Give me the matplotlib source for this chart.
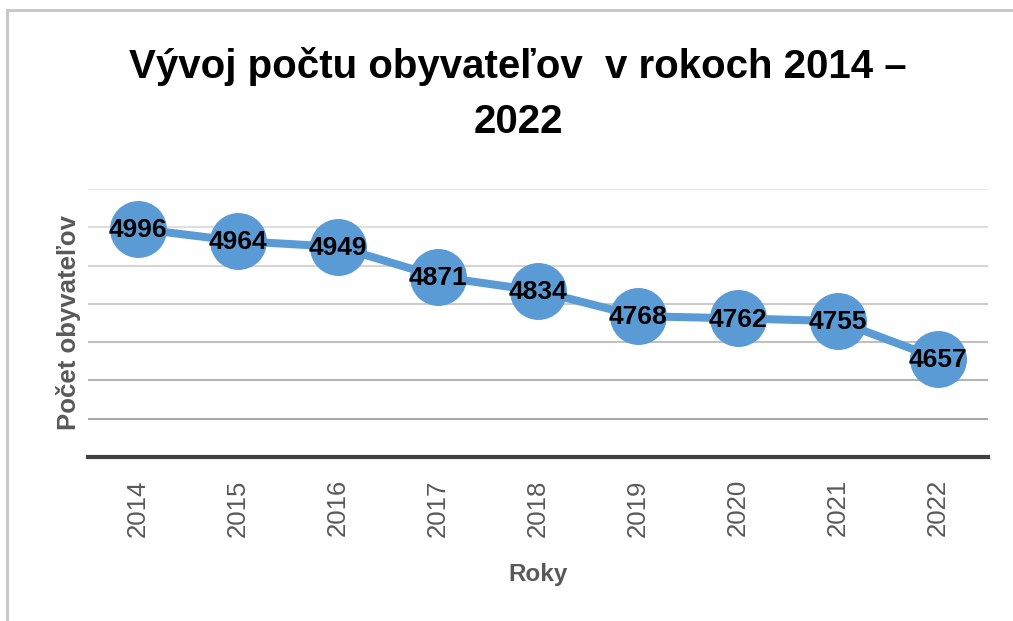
import matplotlib.pyplot as plt
from matplotlib.lines import Line2D

years = ['2014', '2015', '2016', '2017', '2018', '2019', '2020', '2021', '2022']
population = [4996, 4964, 4949, 4871, 4834, 4768, 4762, 4755, 4657]
grid_ticks = [4500, 4600, 4700, 4800, 4900, 5000, 5100]

blue = '#5B9BD5'
gray_text = '#595959'
fam = ['Liberation Sans', 'DejaVu Sans']

fig = plt.figure(figsize=(10.13, 6.21), dpi=100)
ax = fig.add_axes([88 / 1013, 1 - 457 / 621, 900 / 1013, (457 - 189) / 621])

# outer chart frame (cropped screenshot, only top/left edges visible)
fig.add_artist(Line2D([7 / 1013, 1.0], [1 - 10 / 621, 1 - 10 / 621], color='#c8c8c8', linewidth=2.2))
fig.add_artist(Line2D([7 / 1013, 7 / 1013], [0.0, 1 - 10 / 621], color='#c8c8c8', linewidth=2.2))

x = list(range(len(years)))
ax.plot(x, population, color=blue, linewidth=5.8, marker='o', markersize=40,
        markerfacecolor=blue, markeredgecolor=blue, solid_capstyle='round', zorder=3)

for xi, v in zip(x, population):
    ax.text(xi, v - 3, str(v), ha='center', va='center', fontsize=19, fontweight='bold',
            family=fam, color='black', zorder=4)

ax.set_xlim(-0.5, 8.5)
ax.set_ylim(4400, 5100)
ax.set_yticks(grid_ticks)
ax.yaxis.grid(True, linewidth=1.5)
ax.set_axisbelow(True)
grid_colors = ['#a8a8a8', '#b4b4b4', '#c0c0c0', '#cbcbcb', '#d5d5d5', '#dedede', '#e6e6e6']
for line, c in zip(ax.yaxis.get_gridlines(), grid_colors):
    line.set_color(c)
ax.tick_params(axis='y', length=0, labelleft=False)

ax.set_xticks(x)
ax.set_xticklabels(years, rotation=90, fontsize=18.5, color=gray_text, family=fam)
ax.tick_params(axis='x', length=0, pad=16)

for side in ['top', 'right', 'left']:
    ax.spines[side].set_visible(False)
ax.spines['bottom'].set_color('#404040')
ax.spines['bottom'].set_linewidth(3)

ax.set_xlabel('Roky', fontsize=17.5, fontweight='bold', color=gray_text, family=fam, labelpad=19)
ax.set_ylabel('Počet obyvateľov', fontsize=18.5, fontweight='bold', color=gray_text,
              family=fam, labelpad=5)

fig.text(518 / 1013, 1 - 66 / 621, 'Vývoj počtu obyvateľov  v rokoch 2014 –', ha='center', va='center',
         fontsize=29, fontweight='bold', family=fam)
fig.text(518 / 1013, 1 - 122 / 621, '2022', ha='center', va='center',
         fontsize=29, fontweight='bold', family=fam)

fig.savefig('out.png', dpi=100)
